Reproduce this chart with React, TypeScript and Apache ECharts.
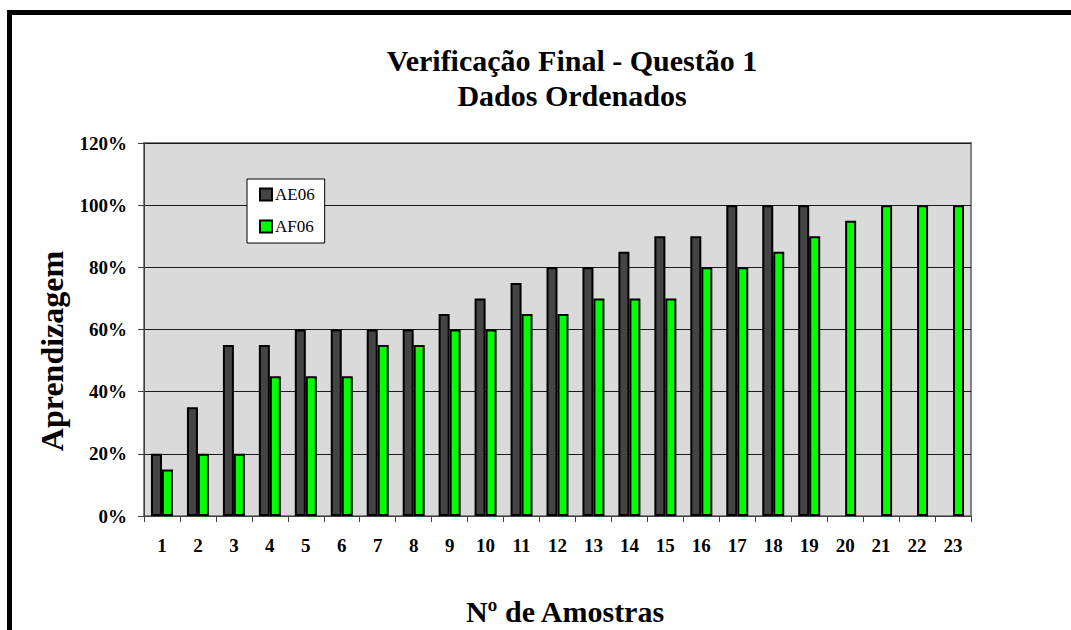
import React, { useEffect, useRef } from "react";
import * as echarts from "echarts";

const categories = ["1","2","3","4","5","6","7","8","9","10","11","12","13","14","15","16","17","18","19","20","21","22","23"];
const ae06 = [20, 35, 55, 55, 60, 60, 60, 60, 65, 70, 75, 80, 80, 85, 90, 90, 100, 100, 100, null, null, null, null];
const af06 = [15, 20, 20, 45, 45, 45, 55, 55, 60, 60, 65, 65, 70, 70, 70, 80, 80, 85, 90, 95, 100, 100, 100];
const titleLines = ["Verificação Final - Questão 1", "Dados Ordenados"];
const yTitle = "Aprendizagem";
const xTitle = "Nº de Amostras";

const FONT = "Liberation Serif";

export default function App() {
  const ref = useRef<HTMLDivElement>(null);
  useEffect(() => {
    if (!ref.current) return;
    const chart = echarts.init(ref.current, undefined, { renderer: "svg" });
    const textEl = (text: string, x: number, y: number, size = 30, rotation = 0) => ({
      type: "text",
      x,
      y,
      rotation,
      style: {
        text,
        fontFamily: FONT,
        fontWeight: "bold",
        fontSize: size,
        fill: "#000",
        textAlign: "center",
        textVerticalAlign: "middle",
      },
    });
    chart.setOption({
      animation: false,
      backgroundColor: "#ffffff",
      textStyle: { fontFamily: FONT },
      grid: {
        left: 144,
        right: 100,
        top: 143,
        bottom: 114,
        show: true,
        backgroundColor: "#dadada",
        borderColor: "#808080",
        borderWidth: 2,
        containLabel: false,
      },
      legend: {
        orient: "vertical",
        left: 247,
        top: 179,
        backgroundColor: "#ffffff",
        borderColor: "#000000",
        borderWidth: 1,
        borderRadius: 0,
        padding: [7, 10, 8, 12],
        itemWidth: 12,
        itemHeight: 12,
        itemGap: 15,
        icon: "rect",
        textStyle: { fontFamily: FONT, fontSize: 17, color: "#000", padding: [0, 0, 0, -2] },
        data: ["AE06", "AF06"],
      },
      xAxis: {
        type: "category",
        data: categories,
        axisLine: { show: true, lineStyle: { color: "#404040", width: 1 } },
        axisTick: { show: true, length: 6, interval: 0, lineStyle: { color: "#404040" } },
        axisLabel: {
          interval: 0,
          margin: 20,
          fontFamily: FONT,
          fontWeight: "bold",
          fontSize: 19,
          color: "#000",
        },
        splitLine: { show: false },
      },
      yAxis: {
        type: "value",
        min: 0,
        max: 120,
        interval: 20,
        axisLine: { show: true, lineStyle: { color: "#404040", width: 1 } },
        axisTick: { show: true, length: 6, lineStyle: { color: "#404040" } },
        axisLabel: {
          margin: 17,
          formatter: (v: number) => v + "%",
          fontFamily: FONT,
          fontWeight: "bold",
          fontSize: 19,
          color: "#000",
        },
        splitLine: { show: true, lineStyle: { color: "#1a1a1a", width: 1 } },
      },
      series: [
        {
          name: "AE06",
          type: "bar",
          data: ae06,
          barWidth: 11,
          barGap: "0%",
          itemStyle: { color: "#444444", borderColor: "#000000", borderWidth: 2 },
        },
        {
          name: "AF06",
          type: "bar",
          data: af06,
          barWidth: 11,
          barGap: "0%",
          itemStyle: { color: "#00ff00", borderColor: "#000000", borderWidth: 2 },
        },
      ],
      graphic: [
        {
          type: "rect",
          shape: { x: 9.5, y: 12.5, width: 1300, height: 800 },
          style: { fill: "none", stroke: "#000000", lineWidth: 5 },
          silent: true,
          z: 100,
        },
        textEl(titleLines[0], 572, 60),
        textEl(titleLines[1], 572, 95),
        textEl(yTitle, 52, 351, 32, Math.PI / 2),
        textEl(xTitle, 565, 611),
      ],
    });
    return () => chart.dispose();
  }, []);
  return (
    <div
      ref={ref}
      style={{ position: "absolute", left: 0, top: 0, width: 1071, height: 630 }}
    />
  );
}
